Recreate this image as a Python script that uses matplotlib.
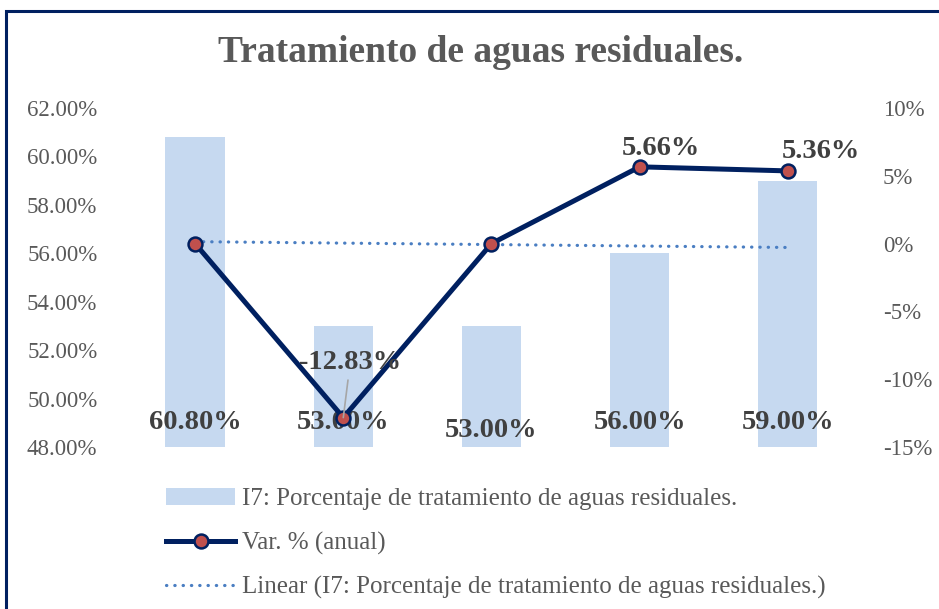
import matplotlib
matplotlib.use("Agg")
import matplotlib.pyplot as plt
import numpy as np
from matplotlib.patches import Rectangle
from matplotlib.ticker import FuncFormatter

plt.rcParams["font.family"] = ["Liberation Serif", "DejaVu Serif"]

# data
years = ["1", "2", "3", "4", "5"]
tratamiento = [60.80, 53.00, 53.00, 56.00, 59.00]  # % (left axis)
variacion = [0.00, -12.83, 0.00, 5.66, 5.36]  # % (right axis)
var_labels = [None, "-12.83%", None, "5.66%", "5.36%"]

title = "Tratamiento de aguas residuales."
bar_name = "I7: Porcentaje de tratamiento de aguas residuales."
line_name = "Var. % (anual)"
trend_name = "Linear (I7: Porcentaje de tratamiento de aguas residuales.)"

BAR = "#C6D9F0"
NAVY = "#002060"
RED = "#C0504D"
TREND = "#4A7EC2"
GRAY = "#595959"
DARK = "#404040"

fig = plt.figure(figsize=(9.39, 6.09), dpi=100)
ax = fig.add_axes([0.1289, 0.266, 0.789, 0.5567])
ax2 = ax.twinx()

x = np.arange(len(years))
bars = ax.bar(x, tratamiento, width=0.40, color=BAR, zorder=1, label=bar_name)

# linear trendline of the bar series
slope, icpt = np.polyfit(x, tratamiento, 1)
trend = ax.plot(x, icpt + slope * x, color=TREND, lw=2.3,
                linestyle=(0, (0.1, 2.5)), dash_capstyle="round",
                zorder=2, label=trend_name)[0]

line = ax2.plot(x, variacion, color=NAVY, lw=3.6, marker="o", markersize=10,
                markerfacecolor=RED, markeredgecolor=NAVY, markeredgewidth=1.8,
                zorder=3, label=line_name)[0]

ax.set_ylim(48, 62)
ax.set_yticks(np.arange(48, 62.1, 2))
ax.yaxis.set_major_formatter(FuncFormatter(lambda v, p: f"{v:.2f}%"))
ax2.set_ylim(-15, 10)
ax2.set_yticks(np.arange(-15, 10.1, 5))
ax2.yaxis.set_major_formatter(FuncFormatter(lambda v, p: f"{v:.0f}%"))
ax.set_xlim(-0.5, len(years) - 0.5)
ax.set_xticks([])

for a in (ax, ax2):
    for s in a.spines.values():
        s.set_visible(False)
    a.tick_params(axis="y", length=0, labelsize=16.5, labelcolor=GRAY)
ax.tick_params(axis="y", pad=17)
ax2.tick_params(axis="y", pad=15)

# bar value labels near the base
bar_label_y = [49.0, 49.0, 48.68, 49.0, 49.0]
for xi, v, ly in zip(x, tratamiento, bar_label_y):
    ax.text(xi, ly, f"{v:.2f}%", ha="center", va="center", fontsize=20.5,
            fontweight="bold", color=DARK, zorder=5)

# line value labels (offsets in points)
offsets = [None, (5, 40), None, (15, 13), (24, 14)]
for xi, v, lab, off in zip(x, variacion, var_labels, offsets):
    if lab is None:
        continue
    if v < 0:
        ax2.annotate(lab, (xi, v), xytext=off,
                     textcoords="offset points", ha="center", va="center",
                     fontsize=20.5, fontweight="bold", color=DARK, zorder=6,
                     arrowprops=dict(arrowstyle="-", color="#A6A6A6", lw=1.2,
                                     shrinkA=2, shrinkB=0))
    else:
        ax2.annotate(lab, (xi, v), xytext=off, textcoords="offset points",
                     ha="center", va="center", fontsize=20.5,
                     fontweight="bold", color=DARK, zorder=6)

fig.text(0.512, 0.913, title, ha="center", va="center", fontsize=27,
         fontweight="bold", color=GRAY)

leg = fig.legend([bars, line, trend], [bar_name, line_name, trend_name],
                 loc="upper left", bbox_to_anchor=(0.177, 0.199),
                 frameon=False, fontsize=18, handlelength=2.75,
                 handletextpad=0.3, labelspacing=0.86, borderpad=0,
                 borderaxespad=0)
for t in leg.get_texts():
    t.set_color(GRAY)

# outer chart border
fig.patches.append(Rectangle((6 / 939, -0.05), 1.1, 1 - 10.5 / 609 + 0.05,
                             transform=fig.transFigure, fill=False,
                             edgecolor=NAVY, lw=2.2, clip_on=False))

fig.savefig("out.png", dpi=100, facecolor="white")
